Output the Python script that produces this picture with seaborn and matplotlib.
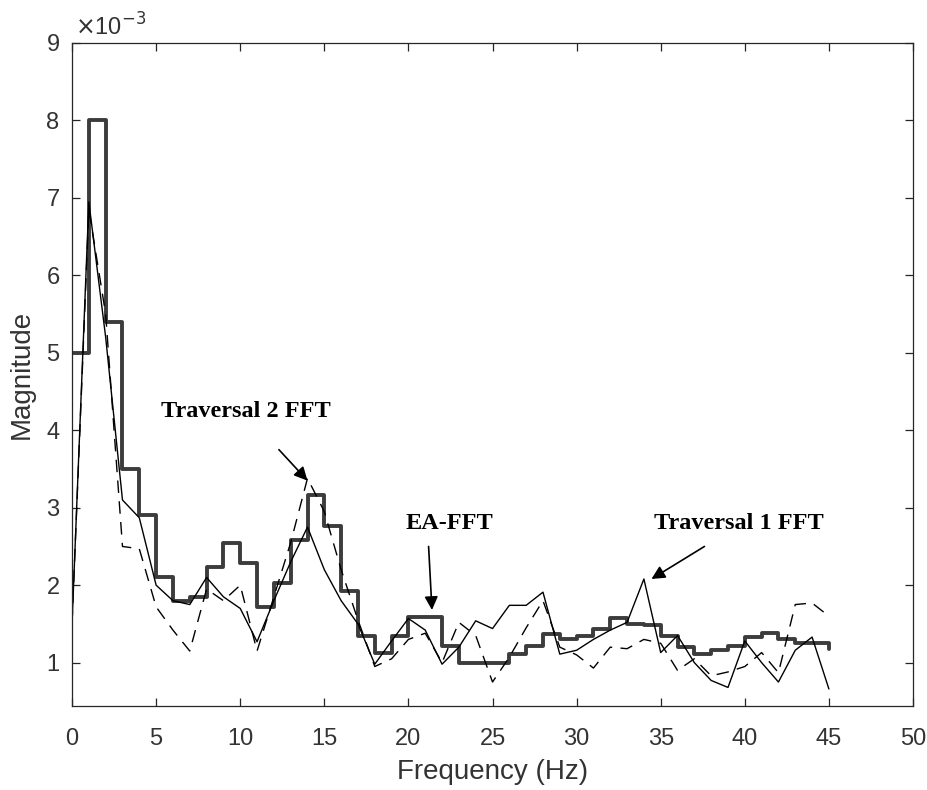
import matplotlib
matplotlib.use("Agg")
import matplotlib.pyplot as plt
import seaborn as sns
import numpy as np
from matplotlib.ticker import FuncFormatter


# DATOS (magnitudes en unidades de 1e-3)

freq = np.arange(0, 46)  # Frecuencia en Hz

ea_fft = [5.0, 8.0, 5.4, 3.5, 2.9, 2.1, 1.8, 1.85, 2.23, 2.54,
          2.28, 1.72, 2.03, 2.58, 3.17, 2.77, 1.93, 1.35, 1.13, 1.35,
          1.59, 1.59, 1.22, 1.0, 1.0, 1.0, 1.11, 1.22, 1.37, 1.31,
          1.35, 1.44, 1.57, 1.50, 1.49, 1.34, 1.2, 1.11, 1.16, 1.22,
          1.33, 1.38, 1.31, 1.25, 1.25, 1.18]

traversal1 = [1.5, 6.95, 5.2, 3.1, 2.87, 2.0, 1.8, 1.75, 2.1, 1.85,
              1.7, 1.27, 1.8, 2.3, 2.75, 2.2, 1.8, 1.5, 0.98, 1.28,
              1.57, 1.42, 0.98, 1.2, 1.54, 1.44, 1.74, 1.74, 1.91, 1.11,
              1.16, 1.3, 1.42, 1.52, 2.08, 1.13, 1.35, 1.0, 0.77, 0.68,
              1.28, 1.0, 0.75, 1.16, 1.33, 0.66]

traversal2 = [1.5, 6.85, 5.5, 2.5, 2.47, 1.72, 1.42, 1.15, 1.95, 1.8,
              2.0, 1.15, 1.85, 2.55, 3.38, 2.95, 2.2, 1.55, 0.95, 1.05,
              1.3, 1.38, 1.0, 1.52, 1.35, 0.75, 1.07, 1.45, 1.8, 1.2,
              1.1, 0.93, 1.2, 1.18, 1.3, 1.25, 0.9, 1.05, 0.83, 0.88,
              0.95, 1.13, 0.87, 1.75, 1.77, 1.6]

scale = 1e-3
xticks = np.arange(0, 55, 5)
yticks = np.arange(1, 10) * scale


# ESTILO

sns.set_theme(style="ticks")
plt.rcParams['font.family'] = ['Liberation Sans', 'DejaVu Sans']
plt.rcParams['xtick.direction'] = 'in'
plt.rcParams['ytick.direction'] = 'in'

fig = plt.figure(figsize=(9.27, 7.9), dpi=100)
ax = fig.add_axes([0.0777, 0.1063, 0.9072, 0.8393])


# CURVAS

sns.lineplot(x=freq, y=np.array(ea_fft) * scale, drawstyle='steps-post',
             color='#3c3c3c', linewidth=2.8, ax=ax)
sns.lineplot(x=freq, y=np.array(traversal1) * scale, color='black',
             linewidth=1.0, ax=ax)
sns.lineplot(x=freq, y=np.array(traversal2) * scale, color='black',
             linewidth=1.0, linestyle=(0, (9, 6)), ax=ax)


# EJES

ax.set_xlim(0, 50)
ax.set_ylim(0.44 * scale, 9 * scale)
ax.set_xticks(xticks)
ax.set_yticks(yticks)
ax.yaxis.set_major_formatter(FuncFormatter(lambda v, p: f"{v / scale:.0f}"))
ax.tick_params(axis='both', which='both', top=True, right=True, length=6,
               width=0.9, color='#262626', labelsize=17, labelcolor='#333333')
ax.tick_params(axis='y', pad=9)
ax.tick_params(axis='x', pad=16)
for s in ax.spines.values():
    s.set_visible(True)
    s.set_color('#262626')
    s.set_linewidth(0.9)

ax.set_xlabel('Frequency (Hz)', fontsize=20, color='#333333', labelpad=6)
ax.set_ylabel('Magnitude', fontsize=20, color='#333333', labelpad=8)
ax.text(0.003, 1.004, r'$\times$10$^{-3}$', transform=ax.transAxes,
        fontsize=17, color='#333333', ha='left', va='bottom')


# ANOTACIONES

font_ann = dict(family=['Liberation Serif', 'DejaVu Serif'], fontweight='bold',
                fontsize=17.5, color='black')
arrow = dict(arrowstyle='-|>', color='black', lw=1.2, mutation_scale=20,
             shrinkA=0, shrinkB=0)

ax.annotate('', xy=(14.0, 3.35 * scale), xytext=(12.3, 3.75 * scale), arrowprops=arrow)
ax.text(5.3, 4.24 * scale, 'Traversal 2 FFT', ha='left', va='center', **font_ann)

ax.annotate('', xy=(21.4, 1.68 * scale), xytext=(21.2, 2.5 * scale), arrowprops=arrow)
ax.text(19.8, 2.8 * scale, 'EA-FFT', ha='left', va='center', **font_ann)

ax.annotate('', xy=(34.45, 2.08 * scale), xytext=(37.6, 2.5 * scale), arrowprops=arrow)
ax.text(34.6, 2.8 * scale, 'Traversal 1 FFT', ha='left', va='center', **font_ann)

plt.savefig('out.png', dpi=100)
